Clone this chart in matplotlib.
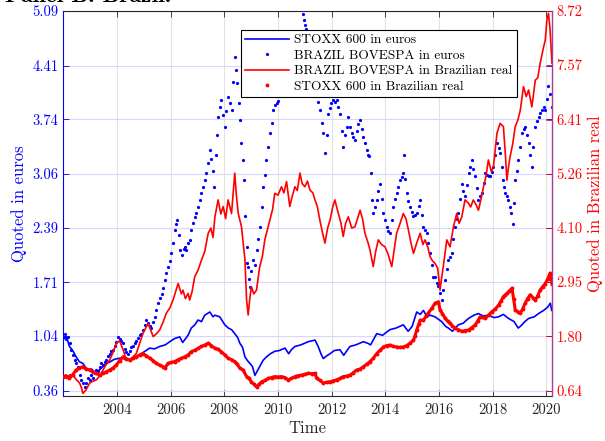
import matplotlib
matplotlib.use("Agg")
import matplotlib.pyplot as plt

plt.rcParams['font.family'] = 'serif'
plt.rcParams['font.serif'] = ['cmr10']
plt.rcParams['mathtext.fontset'] = 'cm'
plt.rcParams['axes.unicode_minus'] = False
plt.rcParams['axes.formatter.use_mathtext'] = True

# STOXX 600 in euros (left axis, line)
stoxx_eur_t = [2002.00, 2002.12, 2002.23, 2002.35, 2002.48, 2002.60, 2002.73, 2002.85, 2002.92, 2003.05,
               2003.20, 2003.35, 2003.48, 2003.62, 2003.75, 2003.90, 2004.04, 2004.20, 2004.35, 2004.55,
               2004.72, 2004.95, 2005.22, 2005.40, 2005.59, 2005.80, 2005.97, 2006.15, 2006.34, 2006.45,
               2006.65, 2006.77, 2006.90, 2007.02, 2007.15, 2007.27, 2007.46, 2007.58, 2007.65, 2007.83,
               2008.02, 2008.15, 2008.27, 2008.39, 2008.50, 2008.58, 2008.68, 2008.77, 2008.85, 2008.95,
               2009.05, 2009.14, 2009.22, 2009.32, 2009.45, 2009.57, 2009.72, 2009.88, 2010.05, 2010.26,
               2010.40, 2010.50, 2010.63, 2010.85, 2011.13, 2011.38, 2011.50, 2011.60, 2011.69, 2011.80,
               2011.94, 2012.10, 2012.31, 2012.45, 2012.55, 2012.68, 2012.90, 2013.18, 2013.35, 2013.45,
               2013.68, 2013.90, 2014.17, 2014.40, 2014.67, 2014.85, 2015.00, 2015.17, 2015.30, 2015.42,
               2015.55, 2015.67, 2015.85, 2016.10, 2016.25, 2016.35, 2016.50, 2016.72, 2016.90, 2017.10,
               2017.30, 2017.47, 2017.65, 2017.84, 2018.05, 2018.22, 2018.40, 2018.59, 2018.80, 2018.95,
               2019.03, 2019.20, 2019.34, 2019.55, 2019.71, 2019.90, 2020.05, 2020.15, 2020.20]
stoxx_eur_v = [1.00, 1.03, 0.91, 0.86, 0.78, 0.72, 0.70, 0.64, 0.62, 0.63,
               0.58, 0.62, 0.66, 0.70, 0.72, 0.75, 0.76, 0.77, 0.74, 0.75,
               0.78, 0.83, 0.89, 0.88, 0.91, 0.93, 0.97, 1.01, 1.03, 0.96,
               1.05, 1.14, 1.18, 1.24, 1.22, 1.30, 1.34, 1.28, 1.30, 1.28,
               1.18, 1.14, 1.12, 1.07, 1.02, 0.95, 0.90, 0.78, 0.74, 0.70,
               0.66, 0.55, 0.60, 0.66, 0.74, 0.78, 0.82, 0.85, 0.86, 0.89,
               0.82, 0.87, 0.91, 0.93, 0.97, 0.99, 0.91, 0.82, 0.76, 0.79,
               0.82, 0.86, 0.87, 0.80, 0.85, 0.91, 0.93, 0.97, 0.95, 0.93,
               1.07, 1.05, 1.12, 1.14, 1.18, 1.10, 1.16, 1.34, 1.31, 1.36,
               1.28, 1.30, 1.28, 1.22, 1.16, 1.14, 1.10, 1.18, 1.20, 1.26,
               1.30, 1.32, 1.29, 1.30, 1.27, 1.28, 1.31, 1.26, 1.22, 1.14,
               1.16, 1.22, 1.26, 1.28, 1.32, 1.36, 1.40, 1.45, 1.36]

# BRAZIL BOVESPA in euros (left axis, dots)
bov_eur_t = [2002.00, 2002.05, 2002.10, 2002.17, 2002.24, 2002.30, 2002.36, 2002.42, 2002.48, 2002.55,
             2002.61, 2002.67, 2002.73, 2002.80, 2002.86, 2002.92, 2002.98, 2003.05, 2003.11, 2003.17,
             2003.23, 2003.29, 2003.35, 2003.42, 2003.48, 2003.54, 2003.60, 2003.67, 2003.73, 2003.79,
             2003.85, 2003.92, 2003.98, 2004.04, 2004.10, 2004.16, 2004.23, 2004.29, 2004.35, 2004.41,
             2004.47, 2004.54, 2004.60, 2004.66, 2004.72, 2004.79, 2004.85, 2004.91, 2004.97, 2005.04,
             2005.10, 2005.16, 2005.22, 2005.28, 2005.35, 2005.41, 2005.47, 2005.53, 2005.60, 2005.66,
             2005.72, 2005.78, 2005.84, 2005.90, 2005.97, 2006.03, 2006.09, 2006.15, 2006.20, 2006.24,
             2006.30, 2006.36, 2006.42, 2006.48, 2006.53, 2006.59, 2006.65, 2006.71, 2006.77, 2006.84,
             2006.90, 2006.96, 2007.02, 2007.08, 2007.15, 2007.21, 2007.27, 2007.33, 2007.40, 2007.46,
             2007.52, 2007.58, 2007.63, 2007.68, 2007.73, 2007.77, 2007.83, 2007.89, 2007.95, 2008.02,
             2008.08, 2008.14, 2008.21, 2008.27, 2008.33, 2008.39, 2008.44, 2008.49, 2008.54, 2008.58,
             2008.64, 2008.70, 2008.75, 2008.79, 2008.83, 2008.86, 2008.89, 2008.92, 2008.95, 2009.01,
             2009.08, 2009.14, 2009.20, 2009.26, 2009.32, 2009.39, 2009.45, 2009.51, 2009.57, 2009.64,
             2009.70, 2009.76, 2009.82, 2009.88, 2009.95, 2010.01, 2010.07, 2010.13, 2010.20, 2010.26,
             2010.32, 2010.38, 2010.44, 2010.51, 2010.57, 2010.63, 2010.70, 2010.76, 2010.82, 2010.88,
             2010.94, 2010.98, 2011.02, 2011.06, 2011.13, 2011.19, 2011.25, 2011.32, 2011.38, 2011.44,
             2011.50, 2011.56, 2011.63, 2011.69, 2011.75, 2011.81, 2011.87, 2011.93, 2011.99, 2012.06,
             2012.12, 2012.19, 2012.25, 2012.31, 2012.37, 2012.43, 2012.50, 2012.56, 2012.62, 2012.68,
             2012.74, 2012.81, 2012.87, 2012.93, 2013.00, 2013.06, 2013.12, 2013.18, 2013.24, 2013.30,
             2013.36, 2013.40, 2013.45, 2013.49, 2013.55, 2013.61, 2013.68, 2013.74, 2013.80, 2013.86,
             2013.93, 2013.99, 2014.05, 2014.11, 2014.17, 2014.24, 2014.30, 2014.36, 2014.42, 2014.49,
             2014.55, 2014.61, 2014.67, 2014.71, 2014.75, 2014.80, 2014.86, 2014.92, 2014.98, 2015.05,
             2015.11, 2015.17, 2015.24, 2015.30, 2015.36, 2015.42, 2015.48, 2015.54, 2015.60, 2015.67,
             2015.73, 2015.79, 2015.85, 2015.92, 2015.98, 2016.04, 2016.10, 2016.16, 2016.23, 2016.29,
             2016.35, 2016.41, 2016.48, 2016.54, 2016.60, 2016.66, 2016.72, 2016.79, 2016.85, 2016.91,
             2016.97, 2017.03, 2017.10, 2017.16, 2017.22, 2017.28, 2017.35, 2017.41, 2017.47, 2017.53,
             2017.60, 2017.66, 2017.72, 2017.79, 2017.85, 2017.91, 2017.97, 2018.03, 2018.10, 2018.16,
             2018.22, 2018.28, 2018.34, 2018.40, 2018.44, 2018.47, 2018.53, 2018.59, 2018.64, 2018.69,
             2018.75, 2018.80, 2018.84, 2018.90, 2018.96, 2019.03, 2019.09, 2019.15, 2019.21, 2019.28,
             2019.34, 2019.40, 2019.46, 2019.52, 2019.59, 2019.65, 2019.71, 2019.77, 2019.83, 2019.90,
             2019.96, 2020.02, 2020.08, 2020.14, 2020.20]
bov_eur_v = [1.03, 1.07, 1.00, 1.03, 0.95, 0.87, 0.80, 0.74, 0.70, 0.66,
             0.56, 0.49, 0.45, 0.41, 0.46, 0.52, 0.49, 0.55, 0.52, 0.58,
             0.62, 0.60, 0.66, 0.70, 0.68, 0.72, 0.74, 0.79, 0.82, 0.85,
             0.87, 0.92, 0.97, 1.03, 1.00, 0.98, 0.95, 0.88, 0.84, 0.82,
             0.86, 0.90, 0.92, 0.95, 0.98, 1.01, 1.05, 1.07, 1.12, 1.18,
             1.24, 1.20, 1.16, 1.14, 1.22, 1.28, 1.36, 1.45, 1.52, 1.57,
             1.64, 1.74, 1.82, 1.90, 1.98, 2.07, 2.20, 2.36, 2.44, 2.49,
             2.30, 2.11, 2.05, 2.12, 2.15, 2.11, 2.20, 2.24, 2.36, 2.45,
             2.52, 2.57, 2.65, 2.74, 2.82, 2.90, 2.98, 3.07, 3.20, 3.36,
             3.25, 3.10, 2.90, 3.30, 3.55, 3.77, 3.90, 3.98, 3.80, 3.65,
             3.85, 4.02, 3.95, 3.86, 4.20, 4.52, 4.35, 4.19, 3.95, 3.73,
             3.45, 3.23, 2.98, 2.53, 2.15, 1.95, 1.90, 1.75, 1.65, 1.85,
             1.99, 1.92, 2.11, 2.25, 2.40, 2.65, 2.90, 3.05, 3.23, 3.40,
             3.57, 3.70, 3.86, 3.92, 3.95, 3.97, 4.10, 4.25, 4.30, 4.40,
             4.20, 4.40, 4.30, 4.50, 4.60, 4.50, 4.70, 4.80, 5.20, 5.30,
             5.05, 4.98, 4.92, 4.87, 4.70, 4.60, 4.50, 4.35, 4.20, 4.05,
             3.96, 3.86, 3.70, 3.57, 3.32, 3.55, 3.81, 3.88, 3.94, 3.98,
             3.96, 3.98, 3.90, 3.81, 3.60, 3.40, 3.55, 3.65, 3.77, 3.65,
             3.57, 3.52, 3.48, 3.60, 3.68, 3.73, 3.62, 3.52, 3.45, 3.36,
             3.30, 3.28, 3.07, 2.74, 2.57, 2.65, 2.74, 2.85, 2.94, 2.75,
             2.57, 2.48, 2.40, 2.35, 2.32, 2.48, 2.65, 2.75, 2.82, 2.90,
             2.98, 3.02, 3.07, 3.30, 3.00, 2.82, 2.72, 2.65, 2.58, 2.53,
             2.55, 2.57, 2.66, 2.74, 2.55, 2.40, 2.36, 2.32, 2.20, 2.07,
             1.92, 1.78, 1.78, 1.70, 1.66, 1.58, 1.49, 1.62, 1.74, 1.88,
             1.99, 2.02, 2.07, 2.25, 2.40, 2.50, 2.57, 2.75, 2.94, 2.85,
             2.78, 2.92, 3.07, 3.15, 3.23, 3.12, 3.03, 2.88, 2.74, 2.78,
             2.82, 2.95, 3.07, 3.05, 3.03, 3.03, 3.08, 3.15, 3.30, 3.44,
             3.38, 3.32, 3.15, 2.98, 2.90, 2.82, 2.78, 2.74, 2.65, 2.57,
             2.44, 2.70, 2.98, 3.10, 3.23, 3.40, 3.57, 3.62, 3.65, 3.55,
             3.44, 3.30, 3.15, 3.40, 3.65, 3.72, 3.77, 3.82, 3.86, 3.90,
             3.86, 4.00, 4.15, 4.05, 3.90]

# BRAZIL BOVESPA in Brazilian real (right axis, line)
bov_brl_t = [2002.00, 2002.12, 2002.25, 2002.36, 2002.48, 2002.61, 2002.68, 2002.73, 2002.85, 2002.98,
             2003.10, 2003.23, 2003.35, 2003.48, 2003.60, 2003.73, 2003.85, 2003.98, 2004.10, 2004.23,
             2004.35, 2004.47, 2004.60, 2004.72, 2004.85, 2004.97, 2005.16, 2005.35, 2005.47, 2005.59,
             2005.72, 2005.84, 2005.97, 2006.09, 2006.28, 2006.40, 2006.46, 2006.55, 2006.65, 2006.71,
             2006.80, 2006.90, 2007.02, 2007.15, 2007.27, 2007.40, 2007.50, 2007.58, 2007.65, 2007.77,
             2007.87, 2007.96, 2008.05, 2008.14, 2008.27, 2008.39, 2008.45, 2008.52, 2008.64, 2008.77,
             2008.83, 2008.89, 2008.95, 2009.01, 2009.10, 2009.20, 2009.32, 2009.42, 2009.51, 2009.60,
             2009.70, 2009.80, 2009.88, 2010.00, 2010.13, 2010.22, 2010.32, 2010.44, 2010.52, 2010.63,
             2010.72, 2010.82, 2010.90, 2011.00, 2011.10, 2011.19, 2011.30, 2011.38, 2011.47, 2011.56,
             2011.66, 2011.75, 2011.85, 2011.94, 2012.04, 2012.12, 2012.25, 2012.35, 2012.43, 2012.52,
             2012.62, 2012.75, 2012.87, 2013.06, 2013.15, 2013.24, 2013.35, 2013.43, 2013.55, 2013.64,
             2013.74, 2013.86, 2013.99, 2014.10, 2014.24, 2014.32, 2014.42, 2014.55, 2014.67, 2014.77,
             2014.86, 2014.95, 2015.05, 2015.18, 2015.30, 2015.40, 2015.48, 2015.58, 2015.67, 2015.76,
             2015.85, 2015.95, 2016.04, 2016.10, 2016.16, 2016.29, 2016.41, 2016.54, 2016.66, 2016.75,
             2016.85, 2016.97, 2017.10, 2017.18, 2017.28, 2017.38, 2017.47, 2017.56, 2017.66, 2017.75,
             2017.84, 2017.95, 2018.03, 2018.16, 2018.28, 2018.40, 2018.47, 2018.53, 2018.59, 2018.65,
             2018.75, 2018.84, 2018.94, 2019.03, 2019.15, 2019.25, 2019.34, 2019.46, 2019.59, 2019.68,
             2019.77, 2019.90, 2019.96, 2020.02, 2020.08, 2020.14, 2020.21]
bov_brl_v = [0.94, 0.90, 0.98, 0.97, 0.88, 0.80, 0.70, 0.58, 0.66, 0.80,
             0.84, 0.87, 0.95, 1.08, 1.20, 1.29, 1.45, 1.65, 1.70, 1.51,
             1.30, 1.29, 1.36, 1.43, 1.65, 1.86, 2.07, 1.79, 1.85, 1.93,
             2.10, 2.29, 2.40, 2.57, 2.92, 2.70, 2.78, 2.60, 2.71, 2.57,
             2.75, 3.07, 3.20, 3.42, 3.60, 3.99, 4.10, 3.90, 4.34, 4.70,
             4.40, 4.56, 4.30, 4.70, 4.41, 5.27, 4.80, 4.41, 4.13, 3.42,
             2.57, 2.25, 2.60, 2.85, 2.70, 2.78, 3.28, 3.50, 3.85, 4.05,
             4.27, 4.50, 4.84, 4.80, 4.98, 4.85, 5.09, 4.56, 4.75, 4.98,
             4.90, 5.27, 5.05, 4.98, 5.10, 4.91, 4.85, 4.70, 4.55, 4.27,
             4.00, 3.78, 4.10, 4.27, 4.55, 4.70, 4.41, 4.20, 3.92, 4.20,
             4.34, 4.10, 4.13, 4.48, 4.30, 3.99, 3.80, 3.63, 3.28, 3.60,
             3.85, 3.75, 3.70, 3.55, 3.28, 3.60, 3.99, 4.20, 4.41, 4.30,
             4.06, 3.80, 3.56, 3.80, 3.99, 3.75, 3.85, 3.70, 3.49, 3.40,
             3.35, 3.25, 2.78, 3.05, 3.28, 3.85, 3.70, 4.13, 4.41, 4.20,
             4.34, 4.70, 4.63, 4.55, 4.70, 4.60, 4.48, 4.70, 4.98, 5.20,
             5.55, 5.30, 5.41, 6.12, 6.33, 6.26, 5.70, 5.12, 5.40, 5.62,
             5.90, 6.26, 6.40, 6.61, 7.11, 6.90, 7.04, 6.68, 7.25, 7.30,
             7.61, 7.96, 8.10, 8.53, 8.67, 8.32, 7.61]

# STOXX 600 in Brazilian real (right axis, dots)
stoxx_brl_t = [2002.00, 2002.10, 2002.23, 2002.35, 2002.48, 2002.60, 2002.73, 2002.85, 2002.98, 2003.10,
               2003.23, 2003.35, 2003.48, 2003.60, 2003.73, 2003.85, 2003.98, 2004.10, 2004.23, 2004.35,
               2004.47, 2004.60, 2004.72, 2004.85, 2004.97, 2005.10, 2005.22, 2005.35, 2005.47, 2005.60,
               2005.72, 2005.80, 2005.90, 2006.02, 2006.15, 2006.28, 2006.40, 2006.53, 2006.65, 2006.77,
               2006.90, 2007.02, 2007.15, 2007.27, 2007.40, 2007.52, 2007.65, 2007.77, 2007.89, 2008.02,
               2008.14, 2008.27, 2008.39, 2008.48, 2008.58, 2008.70, 2008.83, 2008.92, 2009.01, 2009.10,
               2009.20, 2009.30, 2009.39, 2009.52, 2009.64, 2009.76, 2009.88, 2010.01, 2010.13, 2010.26,
               2010.38, 2010.50, 2010.63, 2010.75, 2010.88, 2011.00, 2011.13, 2011.26, 2011.38, 2011.44,
               2011.56, 2011.69, 2011.81, 2011.94, 2012.06, 2012.19, 2012.31, 2012.43, 2012.56, 2012.68,
               2012.80, 2012.93, 2013.06, 2013.18, 2013.30, 2013.43, 2013.55, 2013.68, 2013.80, 2013.93,
               2014.05, 2014.17, 2014.30, 2014.42, 2014.55, 2014.67, 2014.80, 2014.92, 2015.05, 2015.10,
               2015.17, 2015.24, 2015.30, 2015.42, 2015.51, 2015.60, 2015.73, 2015.85, 2015.98, 2016.04,
               2016.13, 2016.23, 2016.32, 2016.41, 2016.50, 2016.60, 2016.72, 2016.85, 2016.97, 2017.10,
               2017.22, 2017.35, 2017.44, 2017.53, 2017.62, 2017.72, 2017.85, 2017.97, 2018.10, 2018.22,
               2018.31, 2018.40, 2018.47, 2018.53, 2018.62, 2018.72, 2018.78, 2018.84, 2018.94, 2019.03,
               2019.12, 2019.21, 2019.30, 2019.40, 2019.50, 2019.59, 2019.68, 2019.77, 2019.86, 2019.96,
               2020.05, 2020.14, 2020.21]
stoxx_brl_v = [0.94, 0.96, 0.90, 0.98, 1.08, 1.12, 1.15, 1.10, 1.08, 1.04,
               1.01, 0.97, 1.01, 1.04, 1.08, 1.12, 1.19, 1.28, 1.36, 1.32,
               1.29, 1.33, 1.36, 1.40, 1.43, 1.38, 1.33, 1.28, 1.22, 1.18,
               1.15, 1.13, 1.22, 1.24, 1.26, 1.30, 1.33, 1.36, 1.40, 1.47,
               1.50, 1.54, 1.58, 1.61, 1.65, 1.60, 1.54, 1.52, 1.47, 1.40,
               1.33, 1.30, 1.26, 1.20, 1.12, 1.08, 0.94, 0.90, 0.83, 0.78,
               0.72, 0.78, 0.83, 0.86, 0.90, 0.92, 0.94, 0.93, 0.94, 0.92,
               0.87, 0.90, 0.94, 0.96, 0.97, 0.99, 1.01, 1.00, 1.01, 0.90,
               0.86, 0.80, 0.82, 0.83, 0.85, 0.87, 0.90, 0.94, 0.95, 0.97,
               1.02, 1.08, 1.10, 1.15, 1.20, 1.26, 1.33, 1.43, 1.50, 1.57,
               1.60, 1.61, 1.58, 1.57, 1.56, 1.57, 1.60, 1.65, 1.72, 1.80,
               1.93, 2.05, 2.14, 2.14, 2.22, 2.29, 2.39, 2.50, 2.53, 2.36,
               2.28, 2.18, 2.12, 2.07, 2.02, 1.97, 1.94, 1.90, 1.92, 1.93,
               1.98, 2.04, 2.12, 2.21, 2.20, 2.18, 2.25, 2.32, 2.38, 2.46,
               2.55, 2.64, 2.68, 2.71, 2.76, 2.82, 2.60, 2.36, 2.32, 2.29,
               2.38, 2.50, 2.60, 2.68, 2.62, 2.57, 2.66, 2.78, 2.85, 2.92,
               3.02, 3.14, 2.92]

euro_ticks = [0.36, 1.04, 1.71, 2.39, 3.06, 3.74, 4.41, 5.09]
real_ticks = [0.64, 1.80, 2.95, 4.10, 5.26, 6.41, 7.57, 8.72]
year_ticks = [2004, 2006, 2008, 2010, 2012, 2014, 2016, 2018, 2020]

dark = '#262626'

fig = plt.figure(figsize=(6.05, 4.41), dpi=100)
ax = fig.add_axes([0.1046, 0.102, 0.8073, 0.873])
ax2 = ax.twinx()

l1, = ax.plot(stoxx_eur_t, stoxx_eur_v, color='blue', lw=1.2, label='STOXX 600 in euros')
l2, = ax.plot(bov_eur_t, bov_eur_v, ls='none', marker='o', ms=2.3, mec='none', color='blue',
              label='BRAZIL BOVESPA in euros')
l3, = ax2.plot(bov_brl_t, bov_brl_v, color='red', lw=1.2, label='BRAZIL BOVESPA in Brazilian real')
ax2.plot(stoxx_brl_t, stoxx_brl_v, color='red', lw=2.2)
l4, = ax2.plot(stoxx_brl_t, stoxx_brl_v, ls='none', marker='o', ms=2.8, mec='none', color='red',
               label='STOXX 600 in Brazilian real')

ax.set_xlim(2002.0, 2020.2)
ax.set_ylim(0.293, 5.09)
ax2.set_ylim(0.526, 8.72)

ax.set_xticks(year_ticks)
ax.set_xticklabels([str(y) for y in year_ticks])
ax.set_yticks(euro_ticks)
ax.set_yticklabels(['%.2f' % v for v in euro_ticks])
ax2.set_yticks(real_ticks)
ax2.set_yticklabels(['%.2f' % v for v in real_ticks])

ax.tick_params(axis='x', direction='in', length=4, width=0.6, top=True, colors=dark, labelsize=10.5, pad=5)
ax.tick_params(axis='y', direction='in', length=4, width=0.6, right=True, colors='blue', labelsize=10.5)
ax2.tick_params(axis='y', direction='in', length=4, width=0.6, colors='red', labelsize=10.5)

ax.grid(axis='y', color='#d6d6ff', lw=0.8)
ax.grid(axis='x', color='#e2e2e2', lw=0.8)
ax.set_axisbelow(True)

ax.spines['left'].set_color('blue')
ax.spines['bottom'].set_color(dark)
ax.spines['top'].set_color(dark)
ax.spines['right'].set_visible(False)
for s in ['left', 'top', 'bottom']:
    ax2.spines[s].set_visible(False)
ax2.spines['right'].set_color('#a8389a')
ax2.spines['right'].set_linewidth(1.0)

ax.set_xlabel('Time', color=dark, fontsize=12, labelpad=3)
ax.set_ylabel('Quoted in euros', color='blue', fontsize=12, labelpad=4)
ax2.set_ylabel('Quoted in Brazilian real', color='red', fontsize=12, labelpad=3)

leg = ax2.legend(handles=[l1, l2, l3, l4], loc='upper right', bbox_to_anchor=(0.928, 0.951),
                 borderaxespad=0, fancybox=False, framealpha=1, edgecolor='black',
                 fontsize=9.6, handlelength=3.3, labelspacing=0.24, borderpad=0.3,
                 handletextpad=0.4, markerscale=1.0)
leg.get_frame().set_linewidth(0.8)

# title sits mostly above the canvas, as in the reference
fig.text(0.008, 1 - 2.0 / 441, 'Panel B: Brazil.', fontfamily='cmb10', fontsize=17, va='baseline')

fig.savefig('out.png', dpi=100)
